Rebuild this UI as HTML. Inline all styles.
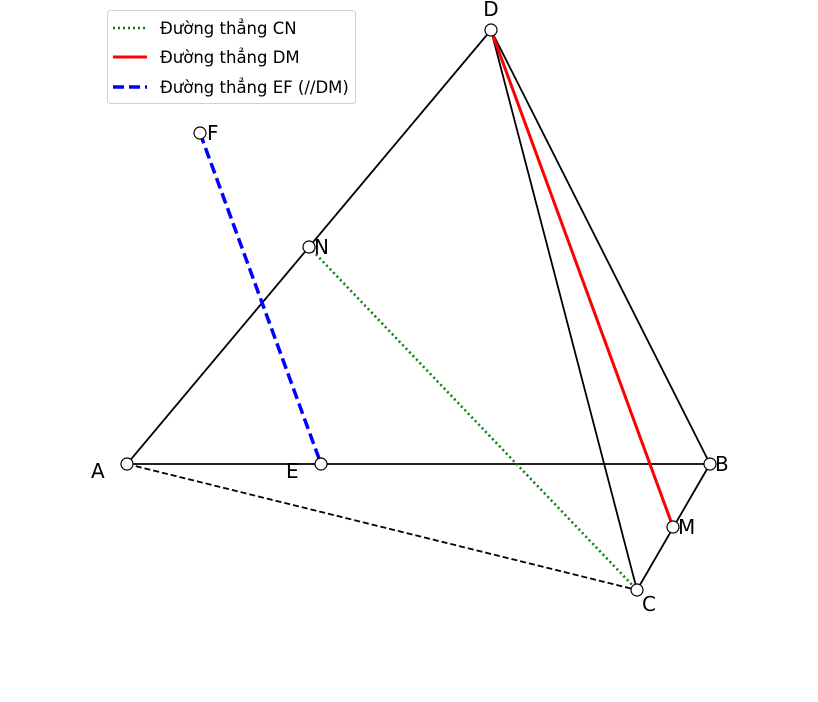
<!DOCTYPE html>
<html><head><meta charset="utf-8"><style>
html,body{margin:0;padding:0;background:#fff;}
svg{display:block;font-family:"DejaVu Sans","Liberation Sans",sans-serif;}
</style></head><body>
<svg width="818" height="702" viewBox="0 0 818 702" xmlns="http://www.w3.org/2000/svg">
<g stroke="#000" stroke-width="1.8" fill="none">
<line x1="127" y1="464" x2="491" y2="30"/>
<line x1="127" y1="464" x2="710" y2="464"/>
<line x1="491" y1="30" x2="710" y2="464"/>
<line x1="491" y1="30" x2="637" y2="590"/>
<line x1="710" y1="464" x2="637" y2="590"/>
<line x1="127" y1="464" x2="637" y2="590" stroke-dasharray="6,3"/>
</g>
<line x1="309" y1="247" x2="637" y2="590" stroke="#008000" stroke-width="2.5" stroke-dasharray="2,3"/>
<line x1="491" y1="30" x2="673" y2="527" stroke="#ff0000" stroke-width="3"/>
<line x1="200" y1="133" x2="321" y2="464" stroke="#0000ff" stroke-width="3.5" stroke-dasharray="11,5"/>
<g fill="#fff" stroke="#000" stroke-width="1.2">
<circle cx="491" cy="30" r="6"/><circle cx="200" cy="133" r="6"/><circle cx="309" cy="247" r="6"/>
<circle cx="127" cy="464" r="6"/><circle cx="321" cy="464" r="6"/><circle cx="710" cy="464" r="6"/>
<circle cx="673" cy="527" r="6"/><circle cx="637" cy="590" r="6"/>
</g>
<g font-size="20" fill="#000">
<text x="491" y="16" text-anchor="middle">D</text>
<text x="207" y="140">F</text>
<text x="314" y="254">N</text>
<text x="91" y="478">A</text>
<text x="286" y="478">E</text>
<text x="715" y="471">B</text>
<text x="678" y="534">M</text>
<text x="642" y="611">C</text>
</g>
<rect x="107.5" y="10.5" width="248" height="93" rx="3" fill="#fff" fill-opacity="0.8" stroke="#d0d0d0"/>
<line x1="113" y1="28" x2="147" y2="28" stroke="#008000" stroke-width="2.5" stroke-dasharray="2,3"/>
<line x1="113" y1="57" x2="147" y2="57" stroke="#ff0000" stroke-width="3"/>
<line x1="113" y1="87" x2="147" y2="87" stroke="#0000ff" stroke-width="3.5" stroke-dasharray="11,5"/>
<g font-size="16.5" fill="#000">
<text x="160" y="34">Đường thẳng CN</text>
<text x="160" y="63">Đường thẳng DM</text>
<text x="160" y="93">Đường thẳng EF (//DM)</text>
</g>
</svg>
</body></html>
